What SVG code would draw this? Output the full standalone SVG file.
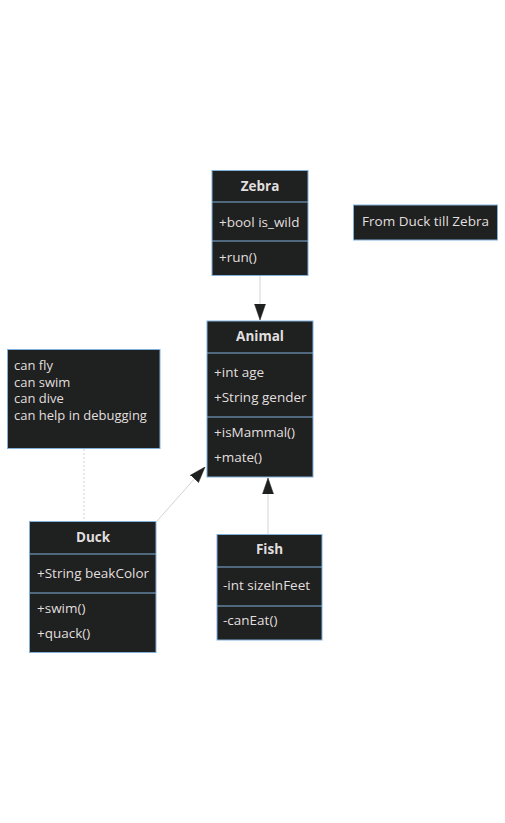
<svg xmlns="http://www.w3.org/2000/svg" width="505" height="823" viewBox="0 0 505 823">
<defs>
<style>
.box{fill:#1f2020;stroke:#81b1db;stroke-width:1}
.div{stroke:#81b1db;stroke-width:1}
.t{font-family:"Open Sans","DejaVu Sans",sans-serif;font-size:13.5px;fill:#e0dfdf}
.n{font-size:13px}
.h{font-weight:bold;text-anchor:middle}
.edge{stroke:#d3d3d3;stroke-width:1;fill:none}
.dot{stroke:#d3d3d3;stroke-width:1;stroke-dasharray:2,2;fill:none}
</style>
<marker id="ext" viewBox="0 0 16 12" refX="16" refY="6" markerWidth="16" markerHeight="12" markerUnits="userSpaceOnUse" orient="auto">
<path d="M0,0.5 L16,6 L0,11.5 Z" fill="#1f2020" stroke="#1f2020" stroke-width="0.5"/>
</marker>
</defs>
<rect width="505" height="823" fill="#ffffff"/>
<g id="connectors">
<path class="edge" d="M260,276 L260,320" marker-end="url(#ext)"/>
<path class="edge" d="M157,521 L205,467" marker-end="url(#ext)"/>
<path class="edge" d="M268,534 L268,478" marker-end="url(#ext)"/>
<path class="dot" d="M84,449 L84,521"/>
</g>
<g id="Zebra">
<rect class="box" x="212" y="170.5" width="96" height="105"/>
<line class="div" x1="212" y1="202" x2="308" y2="202"/>
<line class="div" x1="212" y1="241" x2="308" y2="241"/>
<text class="t h" x="260" y="191">Zebra</text>
<text class="t" x="219" y="227">+bool is_wild</text>
<text class="t" x="219" y="262">+run()</text>
</g>
<g id="Animal">
<rect class="box" x="207" y="321" width="106" height="156"/>
<line class="div" x1="207" y1="353" x2="313" y2="353"/>
<line class="div" x1="207" y1="417" x2="313" y2="417"/>
<text class="t h" x="260" y="341">Animal</text>
<text class="t" x="214" y="377">+int age</text>
<text class="t" x="214" y="402">+String gender</text>
<text class="t" x="214" y="437">+isMammal()</text>
<text class="t" x="214" y="462">+mate()</text>
</g>
<g id="Duck">
<rect class="box" x="29.5" y="521.5" width="126.5" height="131"/>
<line class="div" x1="29.5" y1="554" x2="156" y2="554"/>
<line class="div" x1="29.5" y1="593" x2="156" y2="593"/>
<text class="t h" x="93" y="542">Duck</text>
<text class="t" x="37" y="578">+String beakColor</text>
<text class="t" x="37" y="613">+swim()</text>
<text class="t" x="37" y="638">+quack()</text>
</g>
<g id="Fish">
<rect class="box" x="217" y="534.5" width="105" height="105.5"/>
<line class="div" x1="217" y1="567" x2="322" y2="567"/>
<line class="div" x1="217" y1="606" x2="322" y2="606"/>
<text class="t h" x="269.5" y="554">Fish</text>
<text class="t" x="223" y="590">-int sizeInFeet</text>
<text class="t" x="223" y="625">-canEat()</text>
</g>
<g id="NoteDuck">
<rect class="box" x="7.5" y="349.5" width="152.5" height="99"/>
<text class="t n" x="14" y="370">can fly</text>
<text class="t n" x="14" y="386.5">can swim</text>
<text class="t n" x="14" y="403">can dive</text>
<text class="t n" x="14" y="419.5">can help in debugging</text>
</g>
<g id="NoteZebra">
<rect class="box" x="353.5" y="205" width="144" height="35"/>
<text class="t" x="425.5" y="226" text-anchor="middle">From Duck till Zebra</text>
</g>
</svg>
